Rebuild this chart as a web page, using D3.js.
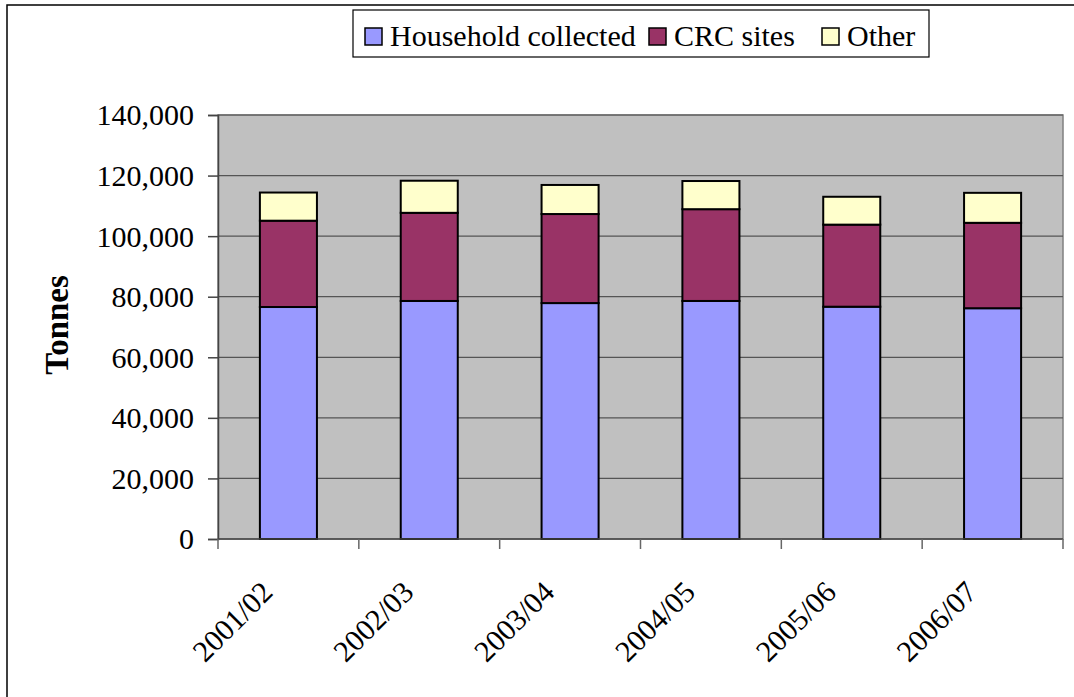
<!DOCTYPE html>
<html>
<head>
<meta charset="utf-8">
<script src="https://cdn.jsdelivr.net/npm/d3@7"></script>
<style>
  html, body { margin: 0; padding: 0; background: #fff; }
  svg { display: block; }
  svg text { font-family: "Liberation Serif", "Times New Roman", serif; }
</style>
</head>
<body>
<svg id="chart" width="1074" height="697"></svg>
<script>
// Waste tonnages by collection route, per financial year
const years = ["2001/02", "2002/03", "2003/04", "2004/05", "2005/06", "2006/07"];
const household = [76600, 78600, 77900, 78600, 76700, 76200];
const crcSites = [28500, 29100, 29400, 30300, 27100, 28200];
const other = [9300, 10600, 9600, 9300, 9200, 9900];
const seriesNames = ["Household collected", "CRC sites", "Other"];
const yTicks = [0, 20000, 40000, 60000, 80000, 100000, 120000, 140000];

const FONT = "\"Liberation Serif\", \"Times New Roman\", serif";
const colors = ["#9999FF", "#993366", "#FFFFCC"];
const keys = ["household", "crc", "other"];

const rows = years.map((y, i) => ({ year: y, household: household[i], crc: crcSites[i], other: other[i] }));
const stacked = d3.stack().keys(keys)(rows);

const svg = d3.select("#chart");
const plot = { left: 218, right: 1063, top: 115, bottom: 539 };

// outer chart frame
svg.append("rect")
  .attr("x", 7).attr("y", 5).attr("width", 1100).attr("height", 720)
  .attr("fill", "#fff").attr("stroke", "#000").attr("stroke-width", 1.5);

const x = d3.scaleBand().domain(years).range([plot.left, plot.right])
  .paddingInner(0.595).paddingOuter(0.2975);
const y = d3.scaleLinear().domain([0, 140000]).range([plot.bottom, plot.top]);

// plot background
svg.append("rect")
  .attr("x", plot.left).attr("y", plot.top)
  .attr("width", plot.right - plot.left).attr("height", plot.bottom - plot.top)
  .attr("fill", "#C0C0C0").attr("stroke", "#808080").attr("stroke-width", 1.5);

// horizontal gridlines
svg.append("g").selectAll("line").data(yTicks.filter(d => d > 0)).join("line")
  .attr("x1", plot.left).attr("x2", plot.right)
  .attr("y1", d => y(d)).attr("y2", d => y(d))
  .attr("stroke", "#555").attr("stroke-width", 1.2);

// stacked bars
svg.append("g").selectAll("g").data(stacked).join("g")
  .attr("fill", (d, i) => colors[i])
  .selectAll("rect").data(d => d).join("rect")
  .attr("x", d => x(d.data.year))
  .attr("width", x.bandwidth())
  .attr("y", d => y(d[1]))
  .attr("height", d => y(d[0]) - y(d[1]))
  .attr("stroke", "#000").attr("stroke-width", 2);

// y axis
const yAxis = svg.append("g")
  .attr("transform", `translate(${plot.left},0)`)
  .call(d3.axisLeft(y).tickValues(yTicks).tickFormat(d3.format(",")).tickSize(10).tickPadding(14));
yAxis.select(".domain").attr("stroke", "#444").attr("stroke-width", 1.5);
yAxis.selectAll(".tick line").attr("stroke", "#444").attr("stroke-width", 1.5);
yAxis.selectAll(".tick text")
  .style("font-family", FONT)
  .attr("font-size", 30).attr("fill", "#000").attr("dy", "0.33em");

// x axis with ticks on category boundaries
const step = x.step();
const xAxis = svg.append("g").style("font-family", FONT);
xAxis.append("line")
  .attr("x1", plot.left).attr("x2", plot.right)
  .attr("y1", plot.bottom).attr("y2", plot.bottom)
  .attr("stroke", "#444").attr("stroke-width", 1.5);
xAxis.selectAll("line.tk").data(d3.range(years.length + 1)).join("line")
  .attr("class", "tk")
  .attr("x1", i => plot.left + i * step).attr("x2", i => plot.left + i * step)
  .attr("y1", plot.bottom).attr("y2", plot.bottom + 10)
  .attr("stroke", "#666").attr("stroke-width", 1.5);
xAxis.selectAll("text.lbl").data(years).join("text")
  .attr("class", "lbl")
  .attr("transform", d => `translate(${x(d) + x.bandwidth() / 2 - 14},594) rotate(-45)`)
  .attr("text-anchor", "end")
  .style("font-family", FONT)
  .style("font-size", "30px").attr("fill", "#000")
  .text(d => d);

// y axis title
svg.append("text")
  .attr("transform", "translate(68,325) rotate(-90)")
  .attr("text-anchor", "middle")
  .style("font-family", FONT)
  .style("font-size", "33px").attr("font-weight", "bold").attr("fill", "#000")
  .text("Tonnes");

// legend: one swatch + label per series
const legend = svg.append("g").style("font-family", FONT);
legend.append("rect")
  .attr("x", 353).attr("y", 10).attr("width", 576).attr("height", 47)
  .attr("fill", "#fff").attr("stroke", "#000").attr("stroke-width", 1.2);
const itemX = [365, 649, 822];
seriesNames.forEach((name, i) => {
  legend.append("rect")
    .attr("x", itemX[i]).attr("y", 28).attr("width", 17).attr("height", 17)
    .attr("fill", colors[i]).attr("stroke", "#000").attr("stroke-width", 1.5);
  legend.append("text")
    .attr("x", itemX[i] + 25).attr("y", 46)
    .style("font-family", FONT)
    .style("font-size", "30px").attr("fill", "#000")
    .text(name);
});
</script>
</body>
</html>
